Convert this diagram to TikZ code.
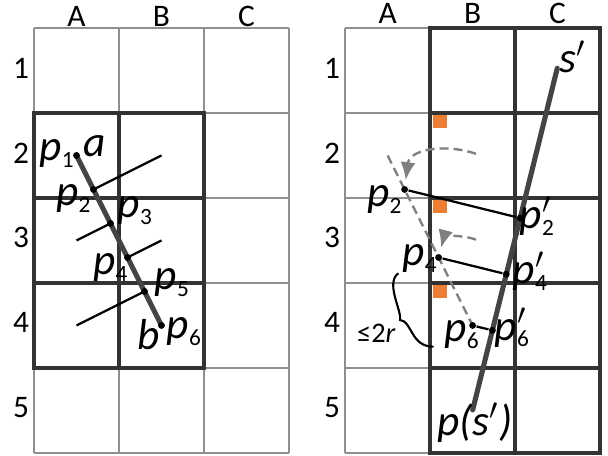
\documentclass[tikz,border=0pt]{standalone}
\usepackage{fontspec}
\setmainfont{Carlito}
\usetikzlibrary{arrows.meta,calc}

\definecolor{gridgray}{HTML}{8F8F8F}
\definecolor{cellline}{HTML}{333333}
\definecolor{segline}{HTML}{444444}
\definecolor{dashgray}{HTML}{808080}
\definecolor{hitorange}{HTML}{ED7D31}

\newcommand{\ix}[1]{\raisebox{-2.2pt}{\upshape\fontsize{7.8}{8}\selectfont #1}}
\newcommand{\pr}{\rlap{$'$}}

\begin{document}
\begin{tikzpicture}[
    thin grid/.style={gridgray, line width=0.55pt},
    thick grid/.style={cellline, line width=1.1pt},
    segment/.style={segline, line width=1.7pt, line cap=round},
    normal/.style={black, line width=0.75pt},
    guide/.style={dashgray, line width=0.8pt, dash pattern=on 3pt off 1.7pt},
    dot/.style={circle, fill=black, inner sep=0pt, minimum size=2.3pt},
    lbl/.style={font=\fontsize{14.5}{14.5}\selectfont\itshape, inner sep=0pt, anchor=base west},
    head/.style={font=\fontsize{10.5}{10.5}\selectfont, inner sep=0pt},
  ]
  \useasboundingbox (-0.4,0.329) rectangle (6.753,-5.035);

  % left grid
  \draw[thin grid] (0,-5) grid (3,0);
  \draw[thick grid] (0,-1) rectangle (2,-4);
  \draw[thick grid] (1,-1) -- (1,-4) (0,-2) -- (2,-2) (0,-3) -- (2,-3);

  % right grid
  \begin{scope}[xshift=3.66cm]
    \draw[thin grid] (0,-5) grid (1,0);
    \foreach \y in {1,2,3} {
      \fill[hitorange] (1.03,-\y-0.012) rectangle ++(0.165,-0.16);
    }
    \draw[thick grid] (1,0) rectangle (3,-5);
    \draw[thick grid] (2,0) -- (2,-5);
    \foreach \y in {1,...,4} {
      \draw[thick grid] (1,-\y) -- (3,-\y);
    }
  \end{scope}

  % column and row headers
  \foreach \c [count=\i] in {A,B,C} {
    \node[head] (colL\c) at (\i-0.5,0.141) {\c};
    \node[head] (colR\c) at (3.66+\i-0.5,0.176) {\c};
  }
  \foreach \r in {1,...,5} {
    \node[head] (rowL\r) at (-0.153,-\r+0.53) {\r};
    \node[head] (rowR\r) at (3.506,-\r+0.53) {\r};
  }

  % left: segment a-b with sample points
  \coordinate (a) at (0.5,-1.5);
  \coordinate (b) at (1.5,-3.5);
  \foreach \i/\t in {1/0,2/0.2,3/0.4,4/0.6,5/0.8,6/1} {
    \coordinate (p\i) at ($(a)!\t!(b)$);
  }
  \coordinate (q2) at ($(p2)+(0.8,0.4)$);
  \coordinate (q3) at ($(p3)+(-0.4,-0.2)$);
  \coordinate (q4) at ($(p4)+(0.4,0.2)$);
  \coordinate (q5) at ($(p5)+(-0.8,-0.4)$);
  \draw[segment] (a) -- (b);
  \foreach \i in {1,...,6} {
    \node[dot] (d\i) at (p\i) {};
  }
  \foreach \i in {2,...,5} {
    \draw[normal] (d\i.center) -- (q\i);
  }

  \node[lbl] (lp1) at (0.06,-1.565) {p\ix{1}};
  \node[lbl] (la) at (0.57,-1.518) {a};
  \node[lbl] (lp2) at (0.255,-2.094) {p\ix{2}};
  \node[lbl] (lp3) at (0.98,-2.235) {p\ix{3}};
  \node[lbl] (lp4) at (0.69,-2.906) {p\ix{4}};
  \node[lbl] (lp5) at (1.415,-3.082) {p\ix{5}};
  \node[lbl] (lb) at (1.21,-3.788) {b};
  \node[lbl] (lp6) at (1.555,-3.659) {p\ix{6}};

  % right: shifted copy and its projection on s'
  \coordinate (ra) at ($(a)+(3.66,0)$);
  \coordinate (rb) at ($(b)+(3.66,0)$);
  \foreach \i/\t in {2/0.2,4/0.6,6/1} {
    \coordinate (r\i) at ($(ra)!\t!(rb)$);
  }
  \coordinate (s) at (6.156,-0.474);
  \coordinate (ps) at (5.161,-4.494);
  \foreach \i in {2,4,6} {
    \coordinate (rq\i) at ($(s)!(r\i)!(ps)$);
  }
  \draw[guide] (ra) -- (rb);
  \draw[segment] (s) -- (ps);
  \foreach \i in {2,4,6} {
    \node[dot] (e\i) at (r\i) {};
    \node[dot] (f\i) at (rq\i) {};
    \draw[normal] (e\i) -- (f\i);
  }

  % moves back onto the copy
  \coordinate (arcA) at (5.2,-1.48);
  \coordinate (arcB) at (5.2,-2.49);
  \draw[guide, -{Latex[length=6pt,width=5pt]}, shorten >=1.8pt]
    (arcA) .. controls (4.85,-1.36) and (4.42,-1.42) .. (e2);
  \draw[guide, -{Latex[length=6pt,width=5pt]}, shorten >=2pt]
    (arcB) .. controls (5.0,-2.42) and (4.82,-2.47) .. (e4);

  % brace
  \draw[black, line width=0.7pt] (4.286,-2.886) .. controls (4.13,-3.0) and (4.33,-3.33) .. (4.306,-3.435)
    .. controls (4.45,-3.45) and (4.43,-3.75) .. (4.70,-3.75);
  \node[font=\fontsize{9.5}{9.5}\selectfont, inner sep=0pt, anchor=base east] (bound) at (4.262,-3.706) {≤2\textit{r}};

  \node[lbl] (rl2) at (3.915,-2.106) {p\ix{2}};
  \node[lbl] (rlq2) at (5.71,-2.365) {p\pr\ix{2}};
  \node[lbl] (rl4) at (4.33,-2.80) {p\ix{4}};
  \node[lbl] (rlq4) at (5.625,-3.012) {p\pr\ix{4}};
  \node[lbl] (rl6) at (4.825,-3.694) {p\ix{6}};
  \node[lbl] (rlq6) at (5.414,-3.671) {p\pr\ix{6}};
  \node[lbl] (ls) at (6.18,-0.529) {s$'$};
  \node[lbl] (lps) at (4.74,-4.79) {p(s$'$)};
\end{tikzpicture}
\end{document}
